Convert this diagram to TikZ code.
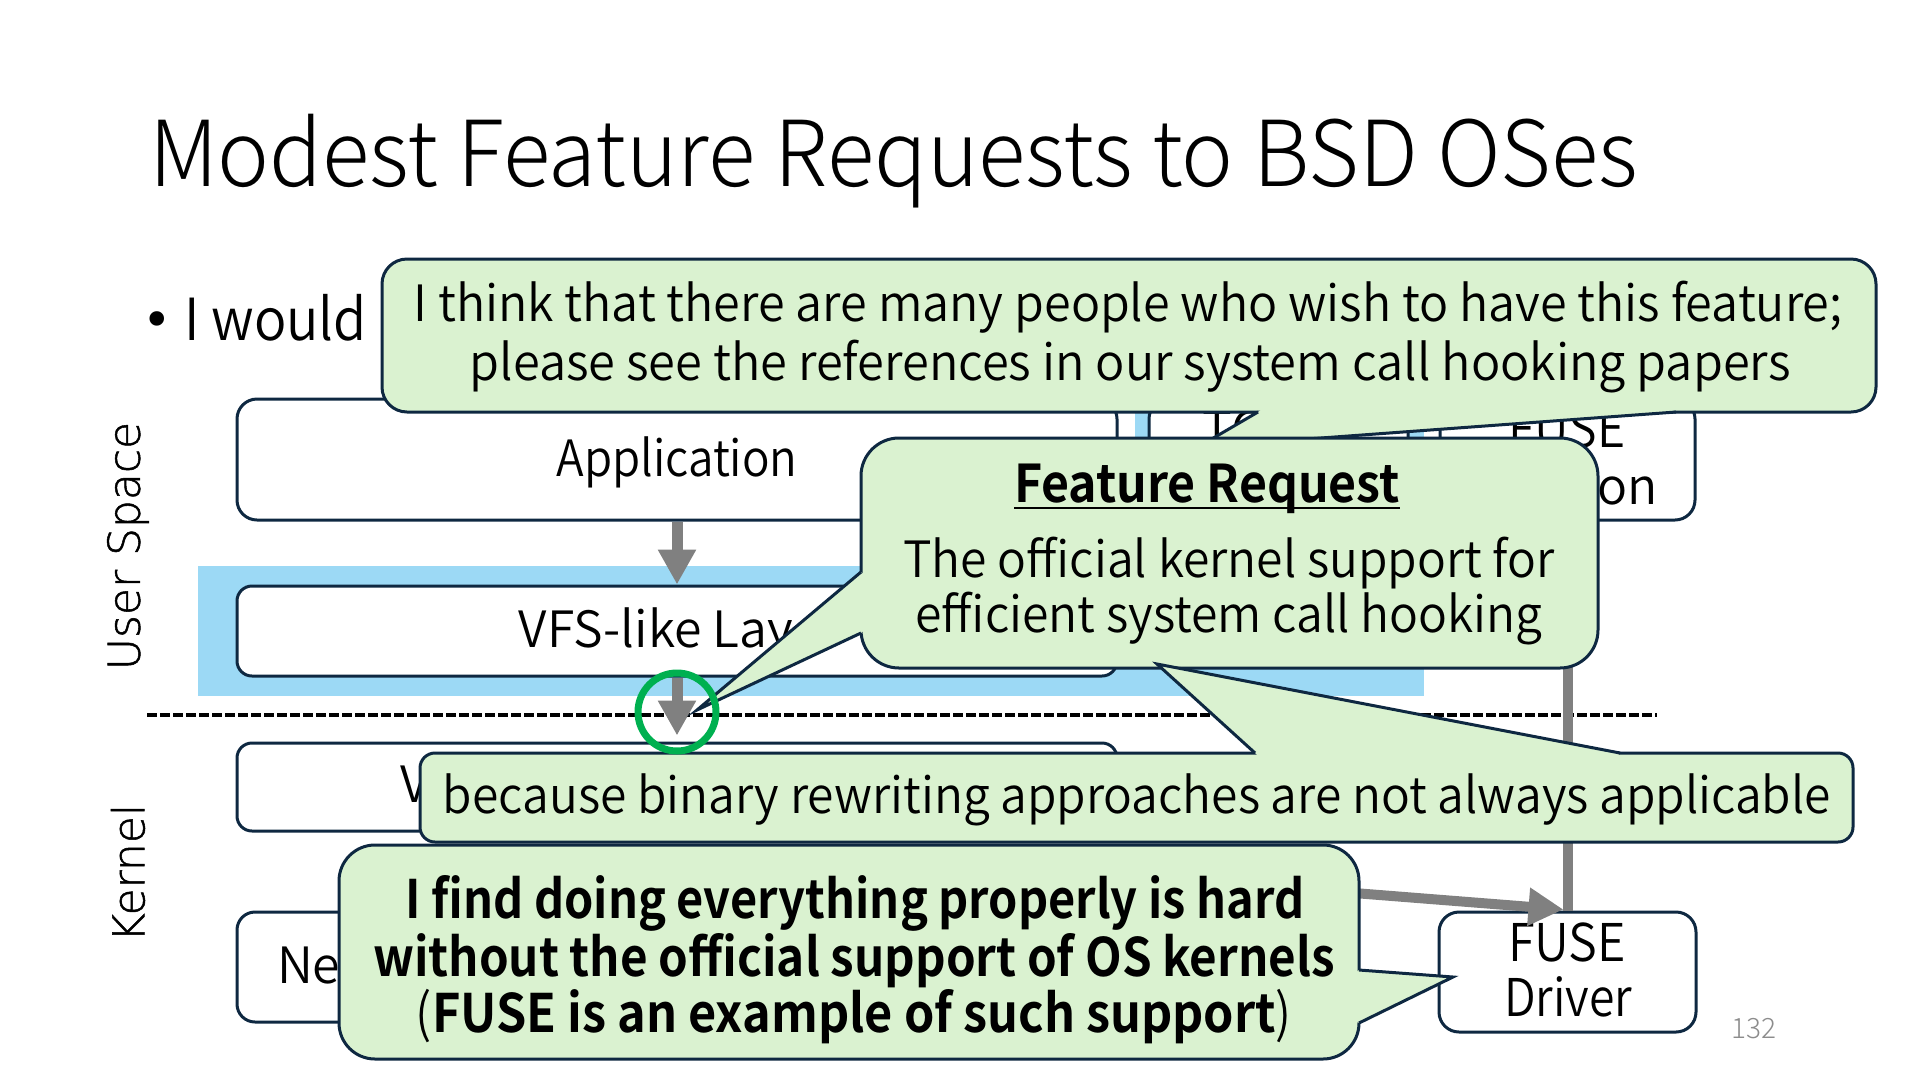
\documentclass[tikz,border=0pt]{standalone}
\usepackage{fontspec}
\usepackage{graphicx}
\usetikzlibrary{arrows.meta}
\setmainfont{Noto Sans CJK JP}
\IfFontExistsTF{Noto Sans CJK JP Light}{\newfontfamily\lightfont{Noto Sans CJK JP Light}}{\newfontfamily\lightfont{Noto Sans CJK JP}}
\IfFontExistsTF{Noto Sans CJK JP DemiLight}{\newfontfamily\bodyfont{Noto Sans CJK JP DemiLight}}{\newfontfamily\bodyfont{Noto Sans CJK JP}}
\IfFontExistsTF{Noto Sans CJK JP Bold}{\newfontfamily\boldfont{Noto Sans CJK JP Bold}}{\newfontfamily\boldfont[FakeBold=2]{Noto Sans CJK JP}}
\IfFontExistsTF{DejaVu Sans ExtraLight}{\newfontfamily\widefont[FakeBold=1.2]{DejaVu Sans ExtraLight}}{\newfontfamily\widefont{DejaVu Sans}}
\newfontfamily\dvfont{DejaVu Sans}
\definecolor{navy}{HTML}{0E2841}
\definecolor{bub}{HTML}{DAF2D0}
\definecolor{skyb}{HTML}{9CD9F5}
\definecolor{garr}{HTML}{808080}
\definecolor{grn}{HTML}{00B050}
\definecolor{pgnum}{HTML}{8C8C8C}
\newcommand\fw[2]{\resizebox{#1pt}{\height}{#2}}
\begin{document}
\begin{tikzpicture}[x=1pt,y=-1pt,
  txt/.style={inner sep=0pt, outer sep=0pt, anchor=base},
  fsz/.style={font=\bodyfont\fontsize{#1pt}{#1pt}\selectfont},
  boxnode/.style={draw=navy, line width=3pt, fill=white, inner sep=0pt, rounded corners=#1},
  bubble/.style={draw=navy, line width=3pt, fill=bub, inner sep=0pt, rounded corners=#1},
  bline/.style={draw=navy, line width=3pt},
  garrow/.style={draw=garr, line width=11pt, -{Triangle[length=35pt,width=36pt]}},
  gline/.style={draw=garr, line width=10pt}
]
\useasboundingbox (0,0) rectangle (1920,1080);

% title
\node[txt, anchor=base west, font=\lightfont\fontsize{91pt}{91pt}\selectfont] (title) at (149,186) {\fw{1489}{Modest Feature Requests to BSD OSes}};
% bullet
\node[txt, font=\dvfont\fontsize{50pt}{50pt}\selectfont] (bul) at (157,337) {•};
\node[txt, anchor=base west, fsz=58] (would) at (184,340) {\fw{183}{I would}};

% side labels
\node[rotate=90, inner sep=0pt, font=\widefont\fontsize{44pt}{44pt}\selectfont] (lus) at (128,546) {User Space};
\node[rotate=90, inner sep=0pt, font=\widefont\fontsize{44pt}{44pt}\selectfont] (lk) at (128,873) {Kernel};

% blue bands
\fill[skyb] (198,566) rectangle (1424,696);
\fill[skyb] (1135,380) rectangle (1424,696);

% boxes
\node[boxnode=20pt, minimum width=880pt, minimum height=121pt] (app) at (677,459.5) {};
\node[boxnode=20pt, minimum width=259pt, minimum height=221pt] (tcp) at (1278.5,509.5) {};
\node[boxnode=20pt, minimum width=255pt, minimum height=121pt] (daemon) at (1567.5,459.5) {};
\node[boxnode=15pt, minimum width=880pt, minimum height=90pt] (vfslike) at (677,631) {};
\node[boxnode=15pt, minimum width=880pt, minimum height=88pt] (vfs) at (677,787) {};
\node[boxnode=18pt, minimum width=523pt, minimum height=110pt] (net) at (498.5,967) {};
\node[boxnode=20pt, minimum width=257pt, minimum height=120pt] (drv) at (1567.5,972) {};

% box texts
\node[txt, fsz=50] (tapp) at (677,476) {\fw{241}{Application}};
\node[txt, fsz=50] (ttcp) at (1279,447) {TCP/IP};
\node[txt, fsz=52] (tdae) at (1567,447) {\fw{117}{FUSE}};
\node[txt, anchor=base east, fsz=50] (tdae2) at (1658,504) {Daemon};
\node[txt, fsz=50] (tvfsl) at (679,647) {VFS-like Layer};
\node[txt, anchor=base west, fsz=50] (tvfs) at (400,802) {V};
\node[txt, anchor=base west, fsz=50] (tnet) at (277,983) {Ne};
\node[txt, fsz=52] (tdrv1) at (1567,961) {\fw{118}{FUSE}};
\node[txt, fsz=52] (tdrv2) at (1568,1016) {\fw{128}{Driver}};

% dashed separator
\coordinate (dl) at (147,715);
\coordinate (dr) at (1657,715);
\draw[black, line width=3.8pt, dash pattern=on 9.5pt off 3.5pt] (dl) -- (dr);

% gray connectors
\draw[garrow] (app.south) -- (vfslike.north);
\draw[garrow] (vfslike.south) -- ([yshift=6pt]vfs.north);
\draw[gline] (daemon.south) -- (drv.north);
\coordinate (fsrc) at (1100,873);
\draw[garrow, line width=10pt] (fsrc) -- ([xshift=-4pt,yshift=1pt]drv.north);

% bubble 1
\node[bubble=25pt, minimum width=1494pt, minimum height=153pt] (b1) at (1129,335.5) {};
\fill[bub] (1198,447) -- (1258,412) -- (1262,409) -- (1672,409) -- (1676,412) -- cycle;
\draw[bline] (1258,412) -- (1198,447) -- (1676,412);
\node[txt, fsz=50] (b1l1) at (1128,321) {\fw{1429}{I think that there are many people who wish to have this feature;}};
\node[txt, fsz=50] (b1l2) at (1130,380) {\fw{1321}{please see the references in our system call hooking papers}};

% bubble 2
\node[bubble=38pt, minimum width=737pt, minimum height=230pt] (b2) at (1229.5,553) {};
\fill[bub] (697,710) -- (861,572) -- (865,575) -- (865,630) -- (861,633) -- cycle;
\draw[bline] (861,572) -- (697,710) -- (861,633);
\node[txt, font=\boldfont\fontsize{52pt}{52pt}\selectfont] (tfr) at (1207,502) {\fw{386}{Feature Request}};
\draw[black, line width=2.5pt] ([yshift=-6pt]tfr.base west) -- ([yshift=-6pt]tfr.base east);
\node[txt, fsz=50] (b2l1) at (1229,577) {\fw{651}{The official kernel support for}};
\node[txt, fsz=50] (b2l2) at (1229,632) {\fw{627}{efficient system call hooking}};

% bubble 4
\node[bubble=15pt, minimum width=1433pt, minimum height=89pt] (b4) at (1136.5,797.5) {};
\fill[bub] (1157,664) -- (1255,753) -- (1259,757) -- (1616,757) -- (1620,753) -- cycle;
\draw[bline] (1255,753) -- (1157,664) -- (1620,753);
\node[txt, fsz=50] (b4l1) at (1137,813) {\fw{1388}{because binary rewriting approaches are not always applicable}};

% bubble 3
\node[bubble=36pt, minimum width=1020pt, minimum height=214pt] (b3) at (849,952) {};
\fill[bub] (1453,977) -- (1359,970) -- (1355,973) -- (1355,1020) -- (1359,1023) -- cycle;
\draw[bline] (1359,970) -- (1453,977) -- (1359,1023);
\node[txt, font=\boldfont\fontsize{53pt}{53pt}\selectfont] (b3l1) at (855,918) {\fw{899}{I find doing everything properly is hard}};
\node[txt, font=\boldfont\fontsize{53pt}{53pt}\selectfont] (b3l2) at (854,976) {\fw{962}{without the official support of OS kernels}};
\node[txt, font=\boldfont\fontsize{53pt}{53pt}\selectfont] (b3l3) at (854,1032) {\fw{876}{{\bodyfont(}FUSE is an example of such support{\bodyfont)}}};

% highlight circle
\node[draw=grn, line width=7pt, circle, minimum size=78pt, inner sep=0pt] (hl) at (677,712) {};

% page number
\node[txt, font=\lightfont\fontsize{28pt}{28pt}\selectfont, text=pgnum] (pg) at (1754,1038) {132};
\end{tikzpicture}
\end{document}
